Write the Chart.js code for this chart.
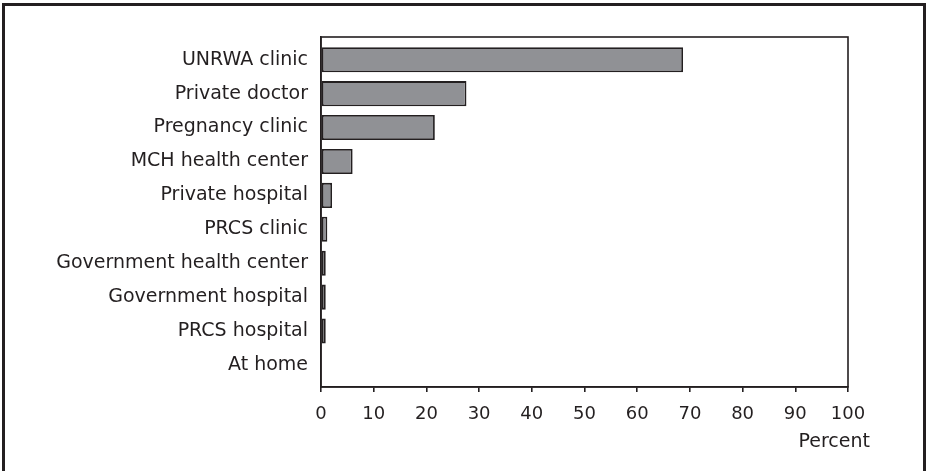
<!DOCTYPE html>
<html>
<head>
<meta charset="utf-8">
<script src="https://cdn.jsdelivr.net/npm/chart.js@4"></script>
<style>
  html, body { margin:0; padding:0; background:#fff; }
  #wrap { width:928px; height:471px; position:relative; }
</style>
</head>
<body>
<div id="wrap"><canvas id="placeChart" width="928" height="471"></canvas></div>
<script>
// places of antenatal care, percent
var places = ['UNRWA clinic','Private doctor','Pregnancy clinic','MCH health center','Private hospital',
              'PRCS clinic','Government health center','Government hospital','PRCS hospital','At home'];
var percents = [68.7, 27.6, 21.6, 6.0, 2.1, 1.2, 0.9, 0.9, 0.9, 0];
var xTicks = [0,10,20,30,40,50,60,70,80,90,100];
var xTitle = 'Percent';

var ink = '#231f20';
var fnt = {family:'"DejaVu Sans", sans-serif', size:19};
var numFnt = {family:'"DejaVu Sans", sans-serif', size:18};

// frame round the whole figure, box round the plot, and the axis title
var framePlugin = {
    id:'frame',
    afterDraw:function(chart){
        var c = chart.ctx, a = chart.chartArea;
        c.save();
        c.strokeStyle = ink;
        c.lineWidth = 3;
        c.strokeRect(3.5, 4.5, 921, 480);
        c.lineWidth = 1.6;
        c.strokeRect(a.left, a.top, a.right - a.left, a.bottom - a.top);
        c.fillStyle = ink;
        c.font = fnt.size + 'px ' + fnt.family;
        c.textAlign = 'right';
        c.textBaseline = 'middle';
        c.fillText(xTitle, chart.scales.x.getPixelForValue(100) + 22, 442);
        c.restore();
    }
};

var placeChart = new Chart(document.getElementById('placeChart'), {
    type:'bar',
    plugins:[framePlugin],
    data:{
        datasets:[{
            label:xTitle,
            data:percents.map(function(v, i){ return {x:v, y:i}; }),
            backgroundColor:'#909195',
            borderColor:ink,
            borderWidth:1.8,
            borderSkipped:false,
            barPercentage:0.74,
            categoryPercentage:1
        }]
    },
    options:{
        indexAxis:'y',
        responsive:false,
        animation:false,
        layout:{padding:{left:0, top:37, right:80, bottom:0}},
        plugins:{legend:{display:false}, tooltip:{enabled:false}},
        scales:{
            x:{
                type:'linear', min:0, max:100,
                afterBuildTicks:function(s){ s.ticks = xTicks.map(function(v){ return {value:v}; }); },
                afterFit:function(s){ s.height = 84; },
                grid:{drawOnChartArea:false, drawTicks:true, tickLength:5, color:ink, lineWidth:1.6},
                border:{display:true, color:ink, width:1.6},
                ticks:{color:ink, font:numFnt, padding:12, maxRotation:0}
            },
            y:{
                type:'linear', reverse:true, offset:false, min:-0.67, max:9.65,
                afterBuildTicks:function(s){ s.ticks = places.map(function(p, i){ return {value:i}; }); },
                afterFit:function(s){ s.width = 321; },
                grid:{display:false},
                border:{display:true, color:ink, width:1.6},
                ticks:{color:ink, font:fnt, padding:5, autoSkip:false,
                       callback:function(v){ return places[v]; }}
            }
        }
    }
});
</script>
</body>
</html>
